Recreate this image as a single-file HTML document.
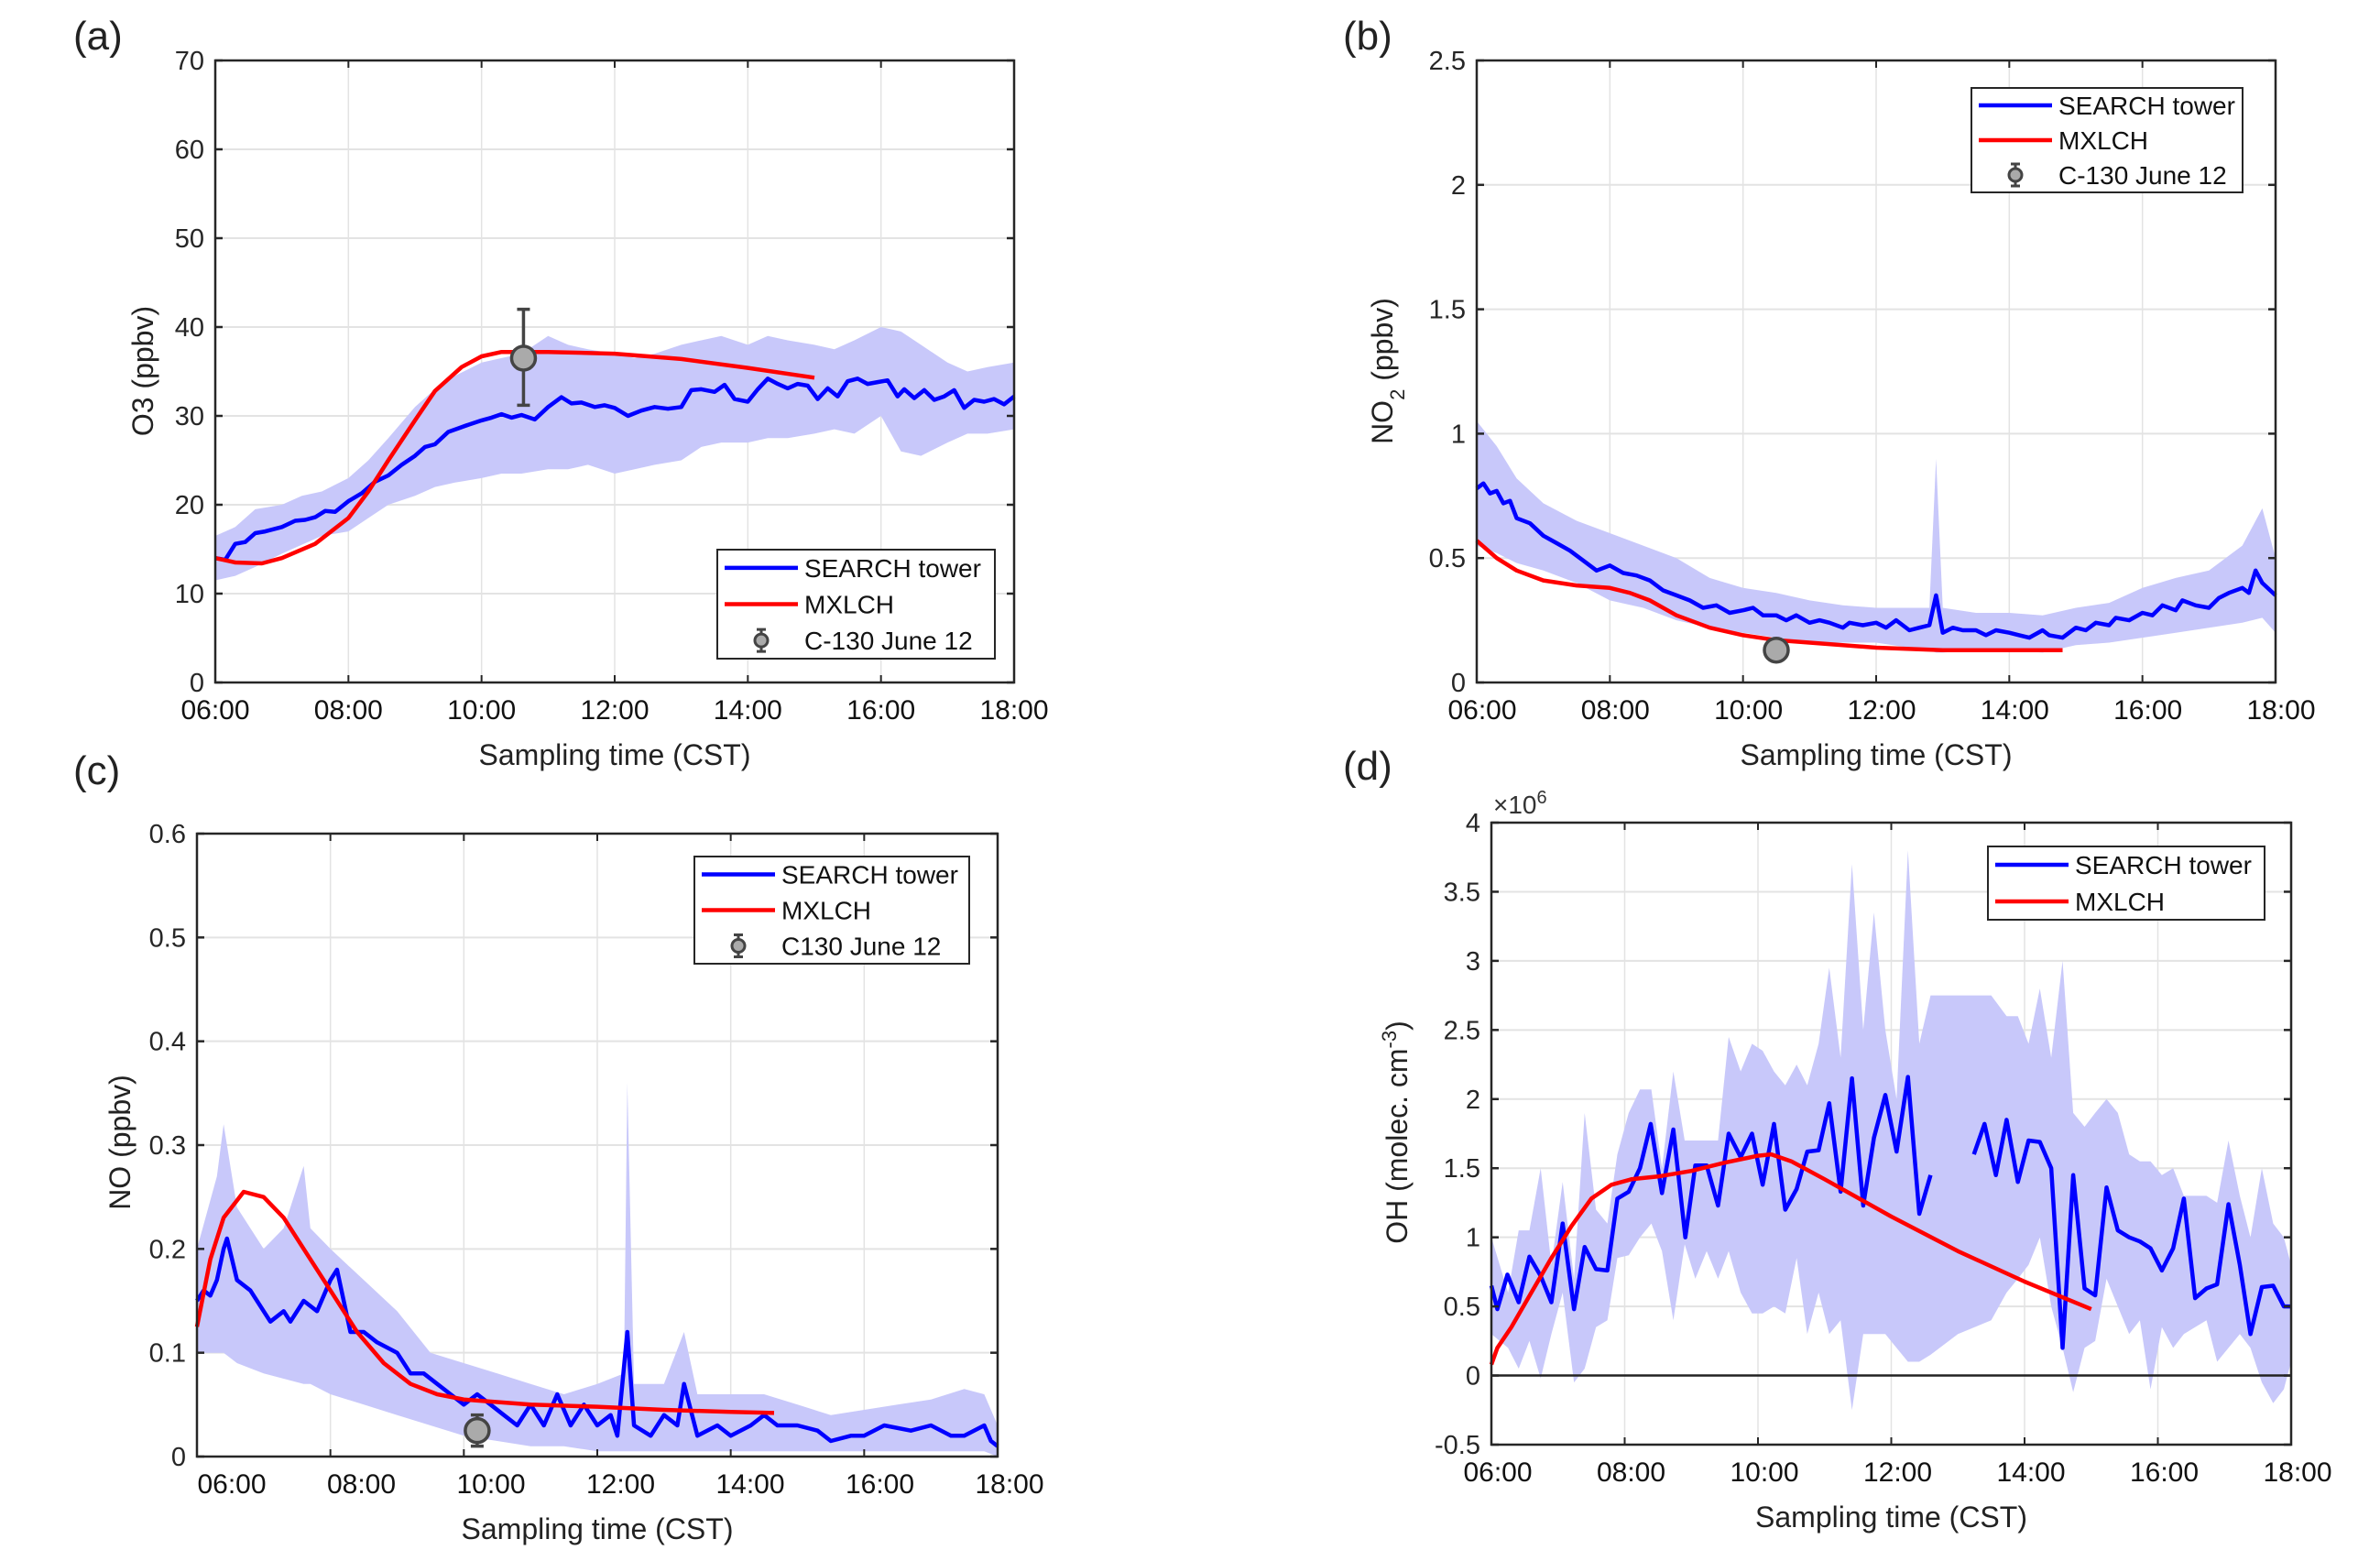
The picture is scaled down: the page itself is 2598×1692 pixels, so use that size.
<!DOCTYPE html>
<html><head><meta charset="utf-8">
<style>
html,body{margin:0;padding:0;background:#fff;}
svg{display:block;font-family:"Liberation Sans",Arial,sans-serif;}
</style></head>
<body>
<svg id="fig" width="2598" height="1692" viewBox="0 0 2598 1692" xmlns="http://www.w3.org/2000/svg"></svg>
<script>
// ---------- Panel (a) O3 ----------
const aBlueT=[6.0,6.15,6.3,6.45,6.6,6.75,7.0,7.2,7.35,7.5,7.65,7.8,8.0,8.2,8.4,8.6,8.8,9.0,9.15,9.3,9.5,9.65,9.8,10.0,10.15,10.3,10.45,10.6,10.8,11.0,11.2,11.35,11.5,11.7,11.85,12.0,12.2,12.4,12.6,12.8,13.0,13.15,13.3,13.5,13.65,13.8,14.0,14.15,14.3,14.45,14.6,14.75,14.9,15.05,15.2,15.35,15.5,15.65,15.8,15.95,16.1,16.25,16.35,16.5,16.65,16.8,16.95,17.1,17.25,17.4,17.55,17.7,17.85,18.0];
const aBlueV=[14,13.8,15.6,15.8,16.8,17,17.5,18.2,18.3,18.6,19.3,19.2,20.4,21.3,22.6,23.3,24.5,25.5,26.5,26.8,28.2,28.6,29,29.5,29.8,30.2,29.8,30.1,29.6,31.0,32.1,31.4,31.5,31.0,31.2,30.9,30.0,30.6,31.0,30.8,31.0,32.9,33.0,32.7,33.5,31.9,31.6,33.0,34.2,33.6,33.1,33.6,33.4,31.9,33.1,32.2,33.9,34.2,33.6,33.8,34.0,32.2,33.0,32.0,32.9,31.8,32.2,32.9,30.9,31.8,31.6,31.9,31.3,32.2];
const aBandT=[6.0,6.3,6.6,7.0,7.3,7.6,8.0,8.3,8.6,9.0,9.3,9.6,10.0,10.3,10.6,11.0,11.3,11.6,12.0,12.3,12.6,13.0,13.3,13.6,14.0,14.3,14.6,15.0,15.3,15.6,16.0,16.3,16.6,17.0,17.3,17.6,18.0];
const aBandHi=[16.5,17.5,19.5,20,21,21.5,23,25,27.5,31,33,34.5,36,36.5,37,39,38,37.5,37,36.5,37,38,38.5,39,38,39,38.5,38,37.5,38.5,40,39.5,38,36,35,35.5,36];
const aBandLo=[11.5,12,13,14.5,15.5,16.5,17,18.5,20,21,22,22.5,23,23.5,23.5,24,24,24.5,23.5,24,24.5,25,26.5,27,27,27.5,27.5,28,28.5,28,30,26,25.5,27,28,28,28.5];
const aRedT=[6.0,6.3,6.7,7.0,7.5,8.0,8.3,8.6,9.0,9.3,9.7,10.0,10.3,11.0,12.0,13.0,14.0,15.0];
const aRedV=[14,13.5,13.4,14,15.6,18.5,21.5,25,29.5,32.8,35.5,36.7,37.2,37.2,37.0,36.4,35.4,34.3];
const aObsT=[10.63], aObsV=[36.5], aObsLo=[31.2], aObsHi=[42];
const aYTicks=[0,10,20,30,40,50,60,70];
// ---------- Panel (b) NO2 ----------
const bBlueT=[6.0,6.1,6.2,6.3,6.4,6.5,6.6,6.8,7.0,7.2,7.4,7.6,7.8,8.0,8.2,8.4,8.6,8.8,9.0,9.2,9.4,9.6,9.8,10.0,10.15,10.3,10.5,10.65,10.8,11.0,11.15,11.3,11.5,11.6,11.8,12.0,12.15,12.3,12.5,12.65,12.8,12.9,13.0,13.15,13.3,13.5,13.65,13.8,14.0,14.15,14.3,14.5,14.6,14.8,15.0,15.15,15.3,15.5,15.6,15.8,16.0,16.15,16.3,16.5,16.6,16.8,17.0,17.15,17.3,17.5,17.6,17.7,17.8,18.0];
const bBlueV=[0.78,0.8,0.76,0.77,0.72,0.73,0.66,0.64,0.59,0.56,0.53,0.49,0.45,0.47,0.44,0.43,0.41,0.37,0.35,0.33,0.3,0.31,0.28,0.29,0.3,0.27,0.27,0.25,0.27,0.24,0.25,0.24,0.22,0.24,0.23,0.24,0.22,0.25,0.21,0.22,0.23,0.35,0.2,0.22,0.21,0.21,0.19,0.21,0.2,0.19,0.18,0.21,0.19,0.18,0.22,0.21,0.24,0.23,0.26,0.25,0.28,0.27,0.31,0.29,0.33,0.31,0.3,0.34,0.36,0.38,0.36,0.45,0.4,0.35];
const bBandT=[6.0,6.3,6.6,7.0,7.5,8.0,8.5,9.0,9.5,10.0,10.5,11.0,11.5,12.0,12.5,12.8,12.9,13.0,13.5,14.0,14.5,15.0,15.5,16.0,16.5,17.0,17.5,17.8,18.0];
const bBandHi=[1.05,0.95,0.82,0.72,0.65,0.6,0.55,0.5,0.42,0.38,0.36,0.33,0.31,0.3,0.3,0.3,0.9,0.3,0.28,0.28,0.27,0.3,0.32,0.38,0.42,0.45,0.55,0.7,0.5];
const bBandLo=[0.55,0.52,0.48,0.45,0.4,0.33,0.3,0.25,0.22,0.2,0.18,0.16,0.16,0.16,0.14,0.13,0.12,0.12,0.13,0.13,0.12,0.15,0.16,0.18,0.2,0.22,0.24,0.26,0.2];
const bRedT=[6.0,6.3,6.6,7.0,7.5,8.0,8.3,8.6,9.0,9.5,10.0,10.5,11.0,12.0,13.0,14.0,14.8];
const bRedV=[0.57,0.5,0.45,0.41,0.39,0.38,0.36,0.33,0.27,0.22,0.19,0.17,0.16,0.14,0.13,0.13,0.13];
const bObsT=[10.5], bObsV=[0.13], bObsLo=[0.11], bObsHi=[0.15];
const bYTicks=[0,0.5,1,1.5,2,2.5];
// ---------- Panel (c) NO ----------
const cBlueT=[6.0,6.1,6.2,6.3,6.4,6.45,6.6,6.8,7.0,7.1,7.3,7.4,7.6,7.8,8.0,8.1,8.2,8.3,8.5,8.7,9.0,9.2,9.4,9.6,9.8,10.0,10.2,10.4,10.6,10.8,11.0,11.2,11.4,11.6,11.8,12.0,12.2,12.3,12.45,12.55,12.8,13.0,13.2,13.3,13.5,13.8,14.0,14.3,14.5,14.7,15.0,15.3,15.5,15.8,16.0,16.3,16.7,17.0,17.3,17.5,17.8,17.9,18.0];
const cBlueV=[0.15,0.16,0.155,0.17,0.2,0.21,0.17,0.16,0.14,0.13,0.14,0.13,0.15,0.14,0.17,0.18,0.15,0.12,0.12,0.11,0.1,0.08,0.08,0.07,0.06,0.05,0.06,0.05,0.04,0.03,0.05,0.03,0.06,0.03,0.05,0.03,0.04,0.02,0.12,0.03,0.02,0.04,0.03,0.07,0.02,0.03,0.02,0.03,0.04,0.03,0.03,0.025,0.015,0.02,0.02,0.03,0.025,0.03,0.02,0.02,0.03,0.015,0.01];
const cBandT=[6.0,6.3,6.4,6.6,7.0,7.3,7.6,7.7,8.0,8.5,9.0,9.5,10.0,10.5,11.0,11.5,12.0,12.4,12.45,12.55,13.0,13.3,13.5,14.0,14.5,15.0,15.5,16.0,16.5,17.0,17.5,17.8,18.0];
const cBandHi=[0.2,0.27,0.32,0.24,0.2,0.22,0.28,0.22,0.2,0.17,0.14,0.1,0.09,0.08,0.07,0.06,0.07,0.08,0.36,0.07,0.07,0.12,0.06,0.06,0.06,0.05,0.04,0.045,0.05,0.055,0.065,0.06,0.03];
const cBandLo=[0.1,0.1,0.1,0.09,0.08,0.075,0.07,0.07,0.06,0.05,0.04,0.03,0.02,0.015,0.01,0.01,0.005,0.005,0.005,0.005,0.005,0.005,0.005,0.005,0.005,0.005,0.005,0.005,0.005,0.005,0.005,0.005,0];
const cRedT=[6.0,6.2,6.4,6.7,7.0,7.3,7.6,8.0,8.4,8.8,9.2,9.6,10.0,11.0,12.0,13.0,14.0,14.65];
const cRedV=[0.125,0.19,0.23,0.255,0.25,0.23,0.2,0.16,0.12,0.09,0.07,0.06,0.055,0.05,0.048,0.045,0.043,0.042];
const cObsT=[10.2], cObsV=[0.025], cObsLo=[0.01], cObsHi=[0.04];
const cYTicks=[0,0.1,0.2,0.3,0.4,0.5,0.6];
// ---------- Panel (d) OH ----------
const dBlue1T=[6.0,6.09,6.24,6.41,6.57,6.74,6.9,7.07,7.24,7.4,7.57,7.74,7.89,8.06,8.23,8.39,8.56,8.73,8.91,9.06,9.23,9.4,9.56,9.74,9.91,10.07,10.24,10.41,10.58,10.74,10.91,11.07,11.24,11.41,11.58,11.74,11.91,12.08,12.25,12.42,12.59];
const dBlue1V=[0.65,0.48,0.73,0.53,0.86,0.72,0.53,1.1,0.48,0.93,0.77,0.76,1.28,1.33,1.5,1.82,1.32,1.78,1.0,1.52,1.52,1.23,1.75,1.58,1.75,1.38,1.82,1.2,1.35,1.62,1.63,1.97,1.33,2.15,1.23,1.72,2.03,1.62,2.16,1.17,1.45];
const dBlue2T=[13.24,13.4,13.57,13.73,13.9,14.06,14.23,14.4,14.57,14.73,14.9,15.06,15.23,15.4,15.57,15.73,15.89,16.06,16.23,16.39,16.56,16.73,16.89,17.06,17.23,17.39,17.56,17.73,17.89,18.0];
const dBlue2V=[1.6,1.82,1.45,1.85,1.4,1.7,1.69,1.5,0.2,1.45,0.63,0.58,1.36,1.05,1.0,0.97,0.92,0.76,0.92,1.28,0.56,0.63,0.66,1.24,0.8,0.3,0.64,0.65,0.5,0.5];
const dBandT=[6.0,6.25,6.41,6.57,6.74,6.9,7.07,7.24,7.4,7.57,7.74,7.89,8.06,8.23,8.4,8.56,8.73,8.9,9.06,9.23,9.4,9.56,9.74,9.91,10.07,10.24,10.41,10.58,10.74,10.91,11.07,11.24,11.41,11.58,11.74,11.91,12.08,12.25,12.42,12.59,13.0,13.5,13.73,13.9,14.06,14.23,14.4,14.57,14.73,14.9,15.06,15.23,15.4,15.57,15.73,15.89,16.06,16.23,16.39,16.56,16.73,16.89,17.06,17.23,17.39,17.56,17.73,17.89,18.0];
const dBandHi=[1.0,0.6,1.05,1.05,1.5,0.8,1.4,0.7,1.9,1.2,1.1,1.6,1.9,2.07,2.07,1.5,2.2,1.7,1.7,1.7,1.7,2.45,2.2,2.4,2.35,2.2,2.1,2.25,2.1,2.4,2.95,2.3,3.7,2.5,3.35,2.5,2.0,3.8,2.4,2.75,2.75,2.75,2.6,2.6,2.4,2.8,2.3,3.0,1.9,1.8,1.9,2.0,1.9,1.6,1.55,1.55,1.45,1.5,1.3,1.3,1.3,1.25,1.7,1.3,1.0,1.5,1.1,1.0,0.8];
const dBandLo=[0.3,0.2,0.05,0.25,-0.02,0.3,0.6,-0.05,0.05,0.35,0.4,0.85,0.87,1.0,1.1,0.9,0.4,0.95,0.7,0.9,0.7,0.9,0.6,0.45,0.45,0.5,0.45,0.85,0.3,0.6,0.3,0.4,-0.25,0.3,0.3,0.3,0.2,0.1,0.1,0.15,0.3,0.4,0.6,0.7,0.8,1.0,0.5,0.2,-0.12,0.2,0.25,0.7,0.5,0.3,0.4,-0.1,0.35,0.2,0.3,0.35,0.4,0.1,0.2,0.3,0.2,-0.05,-0.2,-0.1,0.1];
const dRedT=[6.0,6.09,6.3,6.6,6.9,7.2,7.5,7.8,8.1,8.5,9.0,9.5,10.0,10.2,10.5,11.0,12.0,13.0,14.0,15.0];
const dRedV=[0.08,0.2,0.35,0.6,0.85,1.08,1.28,1.38,1.42,1.44,1.48,1.54,1.59,1.6,1.55,1.42,1.15,0.9,0.68,0.48];
const dYTicks=[-0.5,0,0.5,1,1.5,2,2.5,3,3.5,4];
const xTickHours=[6,8,10,12,14,16,18];
const xTickLabels=["06:00","08:00","10:00","12:00","14:00","16:00","18:00"];

const NS="http://www.w3.org/2000/svg";
const svg=document.getElementById('fig');
function el(tag,attrs,parent){const e=document.createElementNS(NS,tag);for(const k in attrs)e.setAttribute(k,attrs[k]);(parent||svg).appendChild(e);return e;}

function panel(P){
  const g=el('g',{});
  
  
  const X=h=>P.x0+(h-6)/12*(P.x1-P.x0);
  const Y=v=>P.y1-(v-P.ymin)/(P.ymax-P.ymin)*(P.y1-P.y0);
  const LX=P.labX||X;
  xTickHours.forEach(h=>{const l=el('line',{x1:X(h),x2:X(h),y1:P.y0,y2:P.y1,stroke:'#e3e3e3','stroke-width':1.5},g);
    });
  P.yticks.forEach(v=>{const l=el('line',{x1:P.x0,x2:P.x1,y1:Y(v),y2:Y(v),stroke:'#e3e3e3','stroke-width':2},g);
    });
  let d='';P.bandT.forEach((t,i)=>{d+=(i?'L':'M')+X(t).toFixed(1)+','+Y(P.bandHi[i]).toFixed(1);});
  for(let i=P.bandT.length-1;i>=0;i--)d+='L'+X(P.bandT[i]).toFixed(1)+','+Y(P.bandLo[i]).toFixed(1);
  const band=el('path',{d:d+'Z',fill:'#c8c8fa',stroke:'none'},g);
  
  if(P.zeroLine){const z=el('line',{x1:P.x0,x2:P.x1,y1:Y(0),y2:Y(0),stroke:'#222','stroke-width':2.5},g);
    }
  const line=(T,V,c,name)=>{const pts=T.map((t,i)=>X(t).toFixed(1)+','+Y(V[i]).toFixed(1)).join(' ');
    const p=el('polyline',{points:pts,fill:'none',stroke:c,'stroke-width':4.5,'stroke-linejoin':'round'},g);
    };
  P.blue.forEach(s=>line(s[0],s[1],'#0000ff','search-tower-line'));
  line(P.redT,P.redV,'#ff0000','mxlch-line');
  if(P.obsT){P.obsT.forEach((t,i)=>{const x=X(t);
    const e=el('path',{d:`M${x},${Y(P.obsLo[i])}V${Y(P.obsHi[i])}M${x-7},${Y(P.obsLo[i])}H${x+7}M${x-7},${Y(P.obsHi[i])}H${x+7}`,stroke:'#444','stroke-width':3.5,fill:'none'},g);
    
    const c=el('circle',{cx:x,cy:Y(P.obsV[i]),r:13,fill:'#aaa',stroke:'#444','stroke-width':3.5},g);
    });}
  const box=el('rect',{x:P.x0,y:P.y0,width:P.x1-P.x0,height:P.y1-P.y0,fill:'none',stroke:'#262626','stroke-width':2.5},g);
  
  P.yticks.forEach(v=>{el('line',{x1:P.x0,x2:P.x0+8,y1:Y(v),y2:Y(v),stroke:'#262626','stroke-width':2.5},g);
    el('line',{x1:P.x1,x2:P.x1-8,y1:Y(v),y2:Y(v),stroke:'#262626','stroke-width':2.5},g);
    const t=el('text',{x:P.x0-12,y:Y(v)+10,'text-anchor':'end','font-size':29,fill:'#262626'},g);
    t.textContent=String(v);});
  xTickHours.forEach((h,i)=>{el('line',{x1:X(h),x2:X(h),y1:P.y1,y2:P.y1-8,stroke:'#262626','stroke-width':2},g);
    el('line',{x1:X(h),x2:X(h),y1:P.y0,y2:P.y0+8,stroke:'#262626','stroke-width':2},g);
    const t=el('text',{x:LX(h)+P.xlabOff,y:P.y1+40,'text-anchor':'middle','font-size':30,fill:'#111'},g);
    t.textContent=xTickLabels[i];});
  const xt=el('text',{x:(P.x0+P.x1)/2+P.xtOff,y:P.y1+90,'text-anchor':'middle','font-size':32,fill:'#222'},g);
  xt.textContent='Sampling time (CST)';
  const yt=el('text',{x:0,y:0,'text-anchor':'middle','font-size':32,fill:'#222',transform:`translate(${P.ytX},${P.ytY}) rotate(-90)`},g);
  yt.innerHTML=P.ytitle;
  const pl=el('text',{x:P.lx,y:P.ly,'font-size':44,fill:'#222'},g);
  pl.textContent='('+P.id+')';
  const L=P.leg;const lg=el('g',{},g);
  
  el('rect',{x:L.x,y:L.y,width:L.w,height:L.h,fill:'#fff',stroke:'#262626','stroke-width':2},lg);
  const rows=P.obsT?[['#0000ff','SEARCH tower'],['#ff0000','MXLCH'],[null,L.obsLabel]]:[['#0000ff','SEARCH tower'],['#ff0000','MXLCH']];
  const rh=L.h/rows.length;
  rows.forEach((r,i)=>{const cy=L.y+rh*(i+0.5);
    if(r[0]){const ln=el('line',{x1:L.x+8,x2:L.x+88,y1:cy,y2:cy,stroke:r[0],'stroke-width':4.5},lg);
      }
    else{el('path',{d:`M${L.x+48},${cy-12}V${cy+12}M${L.x+43},${cy-12}H${L.x+53}M${L.x+43},${cy+12}H${L.x+53}`,stroke:'#444','stroke-width':3},lg);
      el('circle',{cx:L.x+48,cy:cy,r:7,fill:'#aaa',stroke:'#444','stroke-width':3},lg);}
    const t=el('text',{x:L.x+95,y:cy+10,'font-size':28,fill:'#111'},lg);
    t.textContent=r[1];});
  return {X,Y,g};
}

panel({id:'a',x0:235,x1:1107,y0:66,y1:745,ymin:0,ymax:70,yticks:aYTicks,bandT:aBandT,bandHi:aBandHi,bandLo:aBandLo,
  blue:[[aBlueT,aBlueV]],redT:aRedT,redV:aRedV,obsT:aObsT,obsV:aObsV,obsLo:aObsLo,obsHi:aObsHi,xlabOff:0,xtOff:0,
  ytitle:'O3 (ppbv)',ytX:167,ytY:405,lx:80,ly:54,leg:{x:783,y:600,w:303,h:119,obsLabel:'C-130 June 12'}});
panel({id:'b',x0:1612,x1:2484,y0:66,y1:745,ymin:0,ymax:2.5,yticks:bYTicks,bandT:bBandT,bandHi:bBandHi,bandLo:bBandLo,
  blue:[[bBlueT,bBlueV]],redT:bRedT,redV:bRedV,obsT:bObsT,obsV:bObsV,obsLo:bObsLo,obsHi:bObsHi,xlabOff:6,xtOff:0,
  ytitle:'NO<tspan baseline-shift="sub" font-size="22">2</tspan> (ppbv)',ytX:1520,ytY:405,lx:1466,ly:54,leg:{x:2152,y:96,w:296,h:114,obsLabel:'C-130 June 12'}});
panel({id:'c',x0:215,x1:1089,y0:910,y1:1590,ymin:0,ymax:0.6,yticks:cYTicks,bandT:cBandT,bandHi:cBandHi,bandLo:cBandLo,
  blue:[[cBlueT,cBlueV]],redT:cRedT,redV:cRedV,obsT:cObsT,obsV:cObsV,obsLo:cObsLo,obsHi:cObsHi,xlabOff:0,xtOff:0,
  labX:h=>253+(h-6)/2*141.5,
  ytitle:'NO (ppbv)',ytX:142,ytY:1247,lx:80,ly:856,leg:{x:758,y:935,w:300,h:117,obsLabel:'C130 June 12'}});
panel({id:'d',x0:1628,x1:2501,y0:898,y1:1577,ymin:-0.5,ymax:4,yticks:dYTicks,bandT:dBandT,bandHi:dBandHi,bandLo:dBandLo,
  blue:[[dBlue1T,dBlue1V],[dBlue2T,dBlue2V]],redT:dRedT,redV:dRedV,zeroLine:true,xlabOff:7,xtOff:0,
  ytitle:'OH (molec. cm<tspan baseline-shift="super" font-size="22">-3</tspan>)',ytX:1536,ytY:1236,lx:1466,ly:851,leg:{x:2170,y:924,w:302,h:80}});
const ex=el('text',{x:1630,y:888,'font-size':28,fill:'#333'});
ex.innerHTML='×10<tspan baseline-shift="super" font-size="20">6</tspan>';


</script>
</body></html>
